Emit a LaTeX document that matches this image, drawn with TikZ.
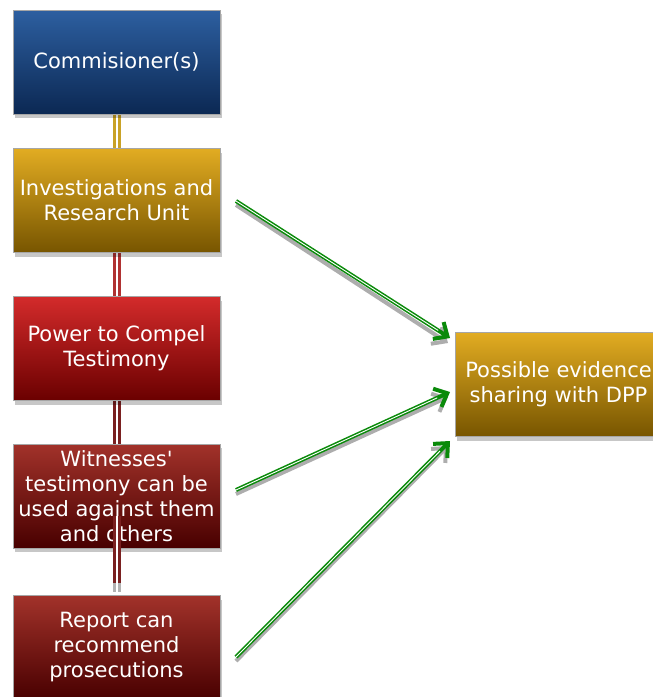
\documentclass[tikz,border=0pt]{standalone}
\usepackage{fontspec}
\setmainfont{DejaVu Sans}
\usetikzlibrary{arrows.meta,shadows}
\definecolor{blueT}{HTML}{2D5FA0}
\definecolor{blueB}{HTML}{0B2853}
\definecolor{goldT}{HTML}{E2AC22}
\definecolor{goldB}{HTML}{775500}
\definecolor{redT}{HTML}{D42B2B}
\definecolor{redB}{HTML}{6A0000}
\definecolor{dredT}{HTML}{A2322A}
\definecolor{dredB}{HTML}{480000}
\definecolor{goldL}{HTML}{C9A227}
\definecolor{redL}{HTML}{B03232}
\definecolor{dredL}{HTML}{7A2020}
\definecolor{arrG}{HTML}{0A8A0A}
\tikzset{
  box/.style={rectangle, minimum width=207pt, minimum height=104pt, align=center,
    text=white, font=\fontsize{21}{25}\selectfont, inner sep=0pt,
    draw=black!35, line width=0.6pt,
    drop shadow={shadow xshift=2pt, shadow yshift=-4pt, opacity=0.22, fill=black}},
  bluebox/.style={box, top color=blueT, bottom color=blueB},
  goldbox/.style={box, top color=goldT, bottom color=goldB},
  redbox/.style={box, top color=redT, bottom color=redB},
  dredbox/.style={box, top color=dredT, bottom color=dredB},
  vlink/.style={line width=3.6pt, double=white, double distance=1.6pt},
  garrow/.style={arrG, line width=4pt, -{Straight Barb[length=11pt, width=20pt, line width=4pt]}},
  garrowin/.style={white, line width=0.9pt},
  sarrow/.style={black!32, line width=4pt, -{Straight Barb[length=11pt, width=20pt, line width=4pt]}},
}
\begin{document}
\begin{tikzpicture}[x=1pt,y=-1pt]
\useasboundingbox (0,0) rectangle (653,697);
\clip (0,0) rectangle (653,697);
% connectors behind boxes
\coordinate (c1t) at (117,112);
\coordinate (c1b) at (117,152);
\coordinate (c2t) at (117,250);
\coordinate (c2b) at (117,299);
\coordinate (c3t) at (117,398);
\coordinate (c3b) at (117,446);
\draw[vlink, goldL] (c1t) -- (c1b);
\draw[vlink, redL] (c2t) -- (c2b);
\draw[vlink, dredL] (c3t) -- (c3b);
% boxes
\node[bluebox] (comm) at (116.5,62) {Commisioner(s)};
\node[goldbox] (inv) at (116.5,200.5) {Investigations and\\Research Unit};
\node[redbox] (pow) at (116.5,348.5) {Power to Compel\\Testimony};
\node[dredbox] (wit) at (116.5,496) {Witnesses\textquotesingle\\testimony can be\\used against them\\and others};
\node[dredbox] (rep) at (116.5,647.5) {Report can\\recommend\\prosecutions};
\node[goldbox] (dpp) at (558.5,384.5) {Possible evidence\\sharing with DPP};
% connector overlapping witness box
\coordinate (c4t) at (117,516);
\coordinate (c4b) at (117,583);
\coordinate (c4e) at (117,592);
\draw[vlink, dredL] (c4t) -- (c4b);
\draw[vlink, black!30] (c4b) -- (c4e);
% green arrows
\coordinate (a1s) at (236,201);
\coordinate (a1e) at (450,338);
\coordinate (a2s) at (236,490);
\coordinate (a2e) at (450,392);
\coordinate (a3s) at (236,657);
\coordinate (a3e) at (450,441);
\foreach \s/\e in {a1s/a1e, a2s/a2e, a3s/a3e}{
  \draw[sarrow] ([shift={(0,4)}]\s) -- ([shift={(-2,5)}]\e);
  \draw[garrow] (\s) -- (\e);
  \draw[garrowin, shorten >=14pt] (\s) -- (\e);
}
\end{tikzpicture}
\end{document}
